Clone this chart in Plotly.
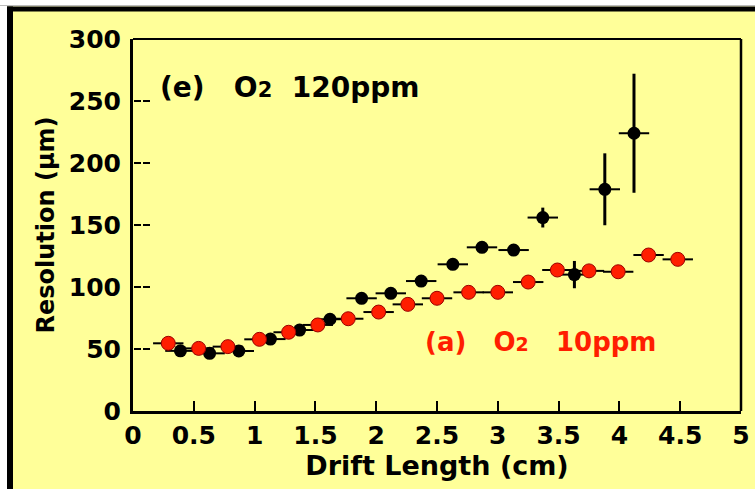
import plotly.graph_objects as go

# ---- data ----
x_120 = [0.39, 0.63, 0.87, 1.13, 1.37, 1.62, 1.88, 2.12, 2.37, 2.63, 2.87, 3.13, 3.37, 3.63, 3.88, 4.12]
y_120 = [48.5, 46.5, 48.4, 58.0, 65.3, 74.0, 90.9, 94.9, 104.8, 118.3, 132.0, 129.8, 156.0, 110.0, 178.8, 224.0]
ey_120 = [2, 2, 2, 2, 2, 2, 2, 2, 2, 2, 2, 2, 8, 11, 29, 48]

x_10 = [0.29, 0.54, 0.78, 1.04, 1.28, 1.52, 1.77, 2.02, 2.26, 2.50, 2.76, 3.00, 3.25, 3.49, 3.75, 3.99, 4.24, 4.48]
y_10 = [54.6, 50.5, 51.9, 57.8, 63.5, 69.4, 74.4, 79.8, 86.0, 90.9, 95.7, 95.7, 104.0, 113.7, 113.0, 112.3, 125.8, 122.3]

bin_half = 0.125
x_ticks = [0, 0.5, 1, 1.5, 2, 2.5, 3, 3.5, 4, 4.5, 5]
y_ticks = [0, 50, 100, 150, 200, 250, 300]

BG = "#ffff99"
FONT = "DejaVu Sans"
RED = "#ff1e00"

# plot area in pixels
W, H = 755, 489
L, R, T, B = 133, 14, 39, 78
PW, PH = W - L - R, H - T - B


def px(X):
    return (X - L) / PW


def py(Y):
    return (H - B - Y) / PH


NB = "\u00a0"

fig = go.Figure()

fig.add_trace(go.Scatter(
    x=x_120, y=y_120, mode="markers",
    marker=dict(color="black", size=13, symbol="circle"),
    error_x=dict(type="constant", value=bin_half, color="black", thickness=2, width=0),
    error_y=dict(type="data", array=ey_120, color="black", thickness=3, width=0),
    showlegend=False,
))

fig.add_trace(go.Scatter(
    x=x_10, y=y_10, mode="markers",
    marker=dict(color=RED, size=14, symbol="circle", line=dict(color="#9a0000", width=1)),
    error_x=dict(type="constant", value=bin_half, color="black", thickness=2, width=0),
    showlegend=False,
))

shapes = [
    # outer white strips + black frame
    dict(type="rect", xref="paper", yref="paper", x0=px(0), x1=px(W), y0=py(0), y1=py(6.5),
         fillcolor="white", line_width=0, layer="below"),
    dict(type="rect", xref="paper", yref="paper", x0=px(0), x1=px(7), y0=py(0), y1=py(H),
         fillcolor="white", line_width=0, layer="below"),
    dict(type="rect", xref="paper", yref="paper", x0=px(7), x1=px(W), y0=py(6.5), y1=py(11.5),
         fillcolor="black", line_width=0, layer="below"),
    dict(type="rect", xref="paper", yref="paper", x0=px(7), x1=px(13), y0=py(6.5), y1=py(H),
         fillcolor="black", line_width=0, layer="below"),
    dict(type="line", xref="paper", yref="paper", x0=px(0), x1=px(W), y0=py(5.5), y1=py(5.5),
         line=dict(color="#bbbbbb", width=1), layer="below"),
]
# dashed y ticks
for v in y_ticks[1:-1]:
    shapes.append(dict(type="line", xref="paper", yref="y", x0=px(134), x1=px(152), y0=v, y1=v,
                       line=dict(color="black", width=2, dash="7px,2px")))

fig.update_layout(
    width=W, height=H,
    margin=dict(l=L, r=R, t=T, b=B, pad=0, autoexpand=False),
    paper_bgcolor=BG, plot_bgcolor=BG,
    font=dict(family=FONT, color="black"),
    shapes=shapes,
    xaxis=dict(
        range=[0, 5], tickvals=x_ticks, ticktext=[f"{v:g}" for v in x_ticks],
        ticks="inside", ticklen=10, tickwidth=2, tickcolor="black",
        showline=True, linecolor="black", linewidth=3, mirror=False,
        showgrid=False, zeroline=False, automargin=False,
        tickfont=dict(family=FONT, size=25, color="black", weight="bold"),
        title=dict(text="<b>Drift Length (cm)</b>", font=dict(family=FONT, size=27, color="black"), standoff=6),
    ),
    yaxis=dict(
        range=[0, 300], tickvals=y_ticks, ticktext=[f"{v:g}" for v in y_ticks],
        ticks="", showline=True, linecolor="black", linewidth=3, mirror=False,
        showgrid=False, zeroline=False, ticklabelstandoff=4, automargin=False,
        tickfont=dict(family=FONT, size=25, color="black", weight="bold"),
        title=dict(text="<b>Resolution (μm)</b>", font=dict(family=FONT, size=24, color="black"), standoff=8),
    ),
    annotations=[
        dict(xref="paper", yref="paper", x=px(158), y=py(87), xanchor="left", yanchor="middle",
             showarrow=False,
             text=f"<b>(e){NB*3}O<span style='font-size:21px'>2</span>{NB*2}120ppm</b>",
             font=dict(family=FONT, size=28, color="black")),
        dict(xref="paper", yref="paper", x=px(423), y=py(342), xanchor="left", yanchor="middle",
             showarrow=False,
             text=f"<b>(a){NB*3}O<span style='font-size:19px'>2</span>{NB*3}10ppm</b>",
             font=dict(family=FONT, size=26, color=RED)),
    ],
)

# top and right frame lines of the plot box
fig.add_shape(type="line", xref="paper", yref="paper", x0=0, x1=1, y0=1, y1=1, line=dict(color="black", width=2))
fig.add_shape(type="line", xref="paper", yref="paper", x0=1, x1=1, y0=0, y1=1, line=dict(color="black", width=2.5))

fig.write_html("out.html")
